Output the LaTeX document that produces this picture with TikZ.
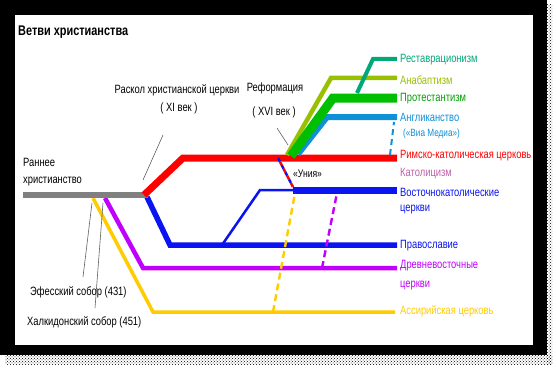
\documentclass[tikz,border=0pt]{standalone}
\usepackage{fontspec}
\setmainfont{Liberation Sans}[FakeStretch=0.78]
\usetikzlibrary{patterns}
\definecolor{cred}{HTML}{FF0000}
\definecolor{cgray}{HTML}{808080}
\definecolor{cblue}{HTML}{0A14F0}
\definecolor{cpurple}{HTML}{C000FF}
\definecolor{cyellow}{HTML}{FFCC00}
\definecolor{cgreen}{HTML}{00BE00}
\definecolor{colive}{HTML}{99C000}
\definecolor{cangl}{HTML}{1090D8}
\definecolor{cteal}{HTML}{00A878}
\definecolor{cmauve}{HTML}{C060A8}
\definecolor{cptr}{HTML}{606060}
\tikzset{
  lbl/.style={anchor=west, inner sep=0pt, font=\fontsize{12}{12}\selectfont},
  ctr/.style={anchor=center, inner sep=0pt, font=\fontsize{12}{12}\selectfont},
  branch/.style={line join=miter},
  ptr/.style={cptr, line width=0.6pt},
  dsh/.style={line width=2.4pt, dash pattern=on 7pt off 4pt}
}
\begin{document}
\begin{tikzpicture}[x=1pt,y=-1pt]
\useasboundingbox (0,0) rectangle (557,369);
% frame and shadow
\fill[pattern=crosshatch dots, pattern color=black] (5,355) rectangle (552,364);
\fill[pattern=crosshatch dots, pattern color=black] (547,5) rectangle (552,364);
\fill[black] (0,0) rectangle (547,355);
\fill[white] (15,15) rectangle (533,345);

% coordinates
\coordinate (g0) at (23,195);
\coordinate (g1) at (148,195);
\coordinate (r0) at (144,195);
\coordinate (r1) at (183,158);
\coordinate (r2) at (397,158);
\coordinate (b0) at (147,197);
\coordinate (b1) at (170,245);
\coordinate (b2) at (397,245);
\coordinate (e0) at (222,245);
\coordinate (e1) at (260,190);
\coordinate (e2) at (293,190);
\coordinate (e3) at (397,190);
\coordinate (p0) at (105,198);
\coordinate (p1) at (143,268);
\coordinate (p2) at (397,268);
\coordinate (y0) at (93,198);
\coordinate (y1) at (153,312);
\coordinate (y2) at (395,312);
\coordinate (o0) at (287,155);
\coordinate (o1) at (331,78);
\coordinate (o2) at (397,78);
\coordinate (pr0) at (291,156);
\coordinate (pr1) at (333,98);
\coordinate (pr2) at (397,98);
\coordinate (a0) at (298,154);
\coordinate (a1) at (327,117);
\coordinate (a2) at (397,117);
\coordinate (t0) at (357,93);
\coordinate (t1) at (373,59);
\coordinate (t2) at (397,59);

% main branches
\draw[branch, cyellow, line width=3.5pt] (y0) -- (y1) -- (y2);
\draw[branch, cpurple, line width=4.5pt] (p0) -- (p1) -- (p2);
\draw[branch, cblue, line width=5.5pt] (b0) -- (b1) -- (b2);
\draw[branch, cblue, line width=2.5pt] (e0) -- (e1) -- (e2);
\draw[cblue, line width=7pt] (e2) -- (e3);
\draw[cgray, line width=6.5pt] (g0) -- (g1);
\draw[branch, cred, line width=7pt] (r0) -- (r1) -- (r2);
\draw[branch, colive, line width=4.5pt] (o0) -- (o1) -- (o2);
\draw[branch, cangl, line width=6pt] (a0) -- (a1) -- (a2);
\draw[branch, cgreen, line width=9pt] (pr0) -- (pr1) -- (pr2);
\draw[branch, cteal, line width=4pt] (t0) -- (t1) -- (t2);

% dashed links
\coordinate (u0) at (278,158);
\coordinate (u1) at (293,187);
\draw[cblue, line width=2.5pt, dash pattern=on 4pt off 4pt] (u0) -- (u1);
\draw[cred, line width=2.5pt, dash pattern=on 4pt off 4pt, dash phase=4pt] (u0) -- (u1);
\coordinate (ad0) at (390,155);
\coordinate (ad1) at (394,122);
\draw[cangl, line width=2pt, dash pattern=on 6pt off 4pt] (ad0) -- (ad1);
\coordinate (yd0) at (273,312);
\coordinate (yd1) at (295,193);
\draw[cyellow, dsh] (yd0) -- (yd1);
\coordinate (pd0) at (322,268);
\coordinate (pd1) at (337,193);
\draw[cpurple, dsh] (pd0) -- (pd1);

% pointer lines
\coordinate (s0) at (163,135);
\coordinate (s1) at (143,180);
\draw[ptr] (s0) -- (s1);
\coordinate (f0) at (277,128);
\coordinate (f1) at (288,145);
\draw[ptr] (f0) -- (f1);
\coordinate (h0) at (92,203);
\coordinate (h1) at (83,277);
\draw[ptr] (h0) -- (h1);
\coordinate (k0) at (103,203);
\coordinate (k1) at (95,308);
\draw[ptr] (k0) -- (k1);

% left / middle labels
\node[lbl, font=\fontsize{14}{14}\selectfont\bfseries] (title) at (18,32) {Ветви христианства};
\node[lbl] (early1) at (23,162) {Раннее};
\node[lbl] (early2) at (23,182) {христианство};
\node[ctr] (schism1) at (177,90) {Раскол христианской церкви};
\node[ctr] (schism2) at (179,108) {( XI век )};
\node[ctr] (ref1) at (275,88) {Реформация};
\node[ctr] (ref2) at (274,112) {( XVI век )};
\node[lbl, font=\fontsize{11}{11}\selectfont] (unia) at (293,174) {«Уния»};
\node[lbl] (eph) at (30,292) {Эфесский собор (431)};
\node[lbl] (chal) at (27,322) {Халкидонский собор (451)};

% right labels
\node[lbl, text=cteal] (l1) at (400,60) {Реставрационизм};
\node[lbl, text=colive] (l2) at (400,80) {Анабаптизм};
\node[lbl, text=cgreen!85!black] (l3) at (400,99) {Протестантизм};
\node[lbl, text=cangl] (l4) at (400,117) {Англиканство};
\node[lbl, text=cangl, font=\fontsize{10.5}{10.5}\selectfont] (l4b) at (403,134) {(«Виа Медиа»)};
\node[lbl, text=cred] (l5) at (400,156) {Римско-католическая церковь};
\node[lbl, text=cmauve] (l6) at (400,174) {Католицизм};
\node[lbl, text=cblue] (l7) at (400,192) {Восточнокатолические};
\node[lbl, text=cblue] (l7b) at (400,210) {церкви};
\node[lbl, text=cblue] (l8) at (400,246) {Православие};
\node[lbl, text=cpurple] (l9) at (400,266) {Древневосточные};
\node[lbl, text=cpurple] (l9b) at (400,286) {церкви};
\node[lbl, text=cyellow] (l10) at (400,311) {Ассирийская церковь};
\end{tikzpicture}
\end{document}
